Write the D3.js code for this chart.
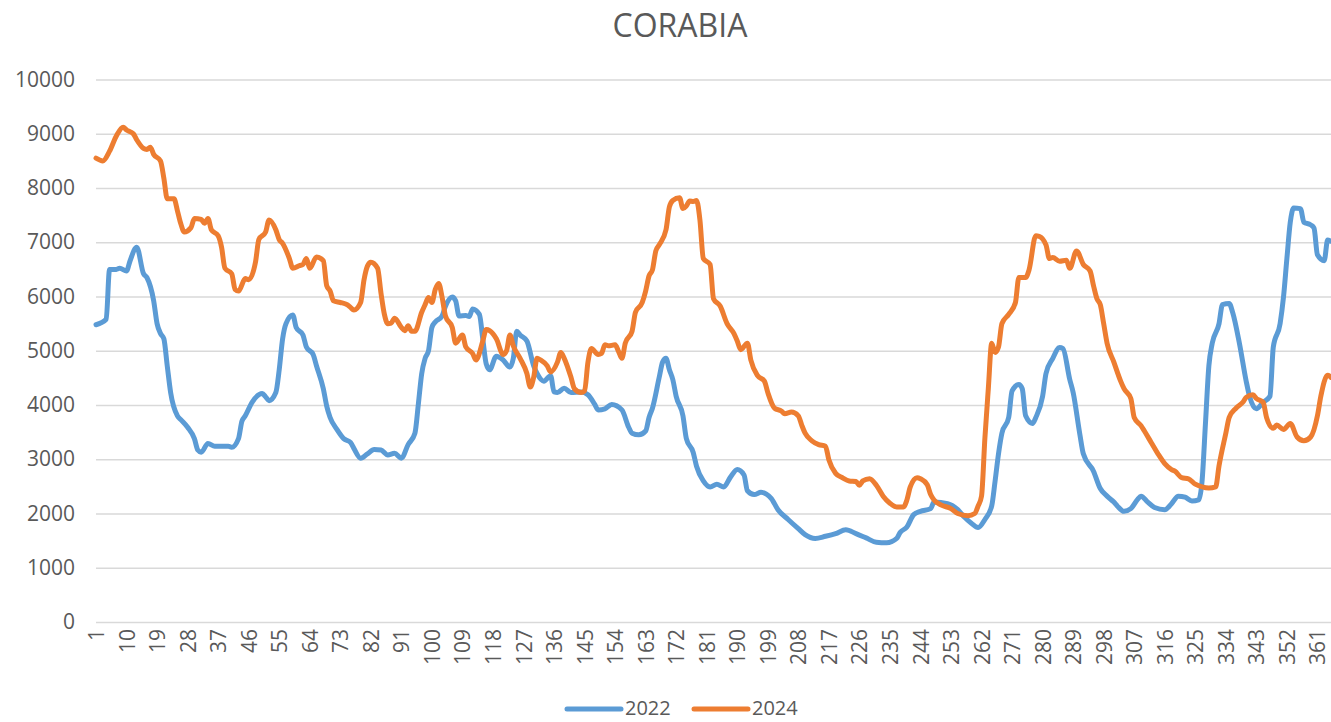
<!DOCTYPE html>
<html lang="en">
<head>
    <meta charset="UTF-8">
    <title>CORABIA</title>
    <style>
        body { margin: 0; background: #fff; }
        text { font-family: "Open Sans", sans-serif; fill: #595959; }
    </style>
</head>
<body>
<script src="https://d3js.org/d3.v7.min.js"></script>
<script>
    // values: day of year and value at that day
    var days2022 = [1, 4, 5, 7, 8, 10, 11, 13, 15, 16, 18, 19, 20, 21, 22, 23, 25, 26, 28, 30, 31, 32, 34, 36, 40, 41, 43, 44, 45, 47, 50, 51, 52, 54, 55, 56, 57, 59, 60, 62, 63, 65, 66, 68, 69, 70, 72, 74, 76, 77, 79, 81, 83, 85, 87, 89, 91, 93, 95, 96, 97, 98, 99, 100, 101, 103, 104, 106, 107, 108, 110, 111, 112, 114, 115, 116, 117, 119, 121, 123, 124, 125, 126, 128, 130, 131, 133, 135, 136, 137, 139, 141, 144, 146, 148, 149, 151, 153, 156, 158, 159, 161, 163, 164, 165, 167, 168, 169, 170, 171, 172, 174, 175, 177, 178, 180, 182, 184, 186, 188, 190, 192, 193, 195, 197, 200, 202, 205, 208, 210, 213, 216, 219, 222, 225, 228, 231, 234, 237, 238, 240, 242, 244, 247, 248, 252, 255, 257, 259, 261, 263, 265, 266, 267, 268, 270, 271, 273, 274, 275, 277, 278, 280, 281, 283, 285, 286, 288, 289, 291, 292, 295, 297, 299, 301, 302, 304, 306, 308, 309, 311, 313, 316, 318, 320, 322, 324, 326, 327, 328, 329, 330, 332, 333, 335, 336, 338, 340, 341, 343, 345, 347, 348, 350, 351, 352, 353, 354, 356, 357, 359, 360, 361, 363, 364, 365];
    var values2022 = [5480, 5580, 6500, 6500, 6520, 6470, 6650, 6910, 6420, 6350, 5920, 5500, 5320, 5220, 4720, 4230, 3800, 3730, 3590, 3380, 3170, 3130, 3290, 3240, 3240, 3220, 3380, 3700, 3800, 4050, 4210, 4150, 4080, 4230, 4650, 5220, 5500, 5660, 5430, 5290, 5070, 4930, 4720, 4300, 3980, 3770, 3550, 3380, 3310, 3200, 3020, 3100, 3180, 3170, 3080, 3110, 3020, 3270, 3480, 4010, 4580, 4860, 5000, 5430, 5530, 5640, 5820, 5990, 5920, 5640, 5650, 5630, 5770, 5670, 5220, 4760, 4650, 4900, 4830, 4700, 4860, 5360, 5290, 5180, 4720, 4580, 4440, 4540, 4240, 4230, 4310, 4230, 4240, 4190, 4010, 3910, 3930, 4010, 3910, 3590, 3480, 3450, 3520, 3770, 3940, 4510, 4790, 4860, 4650, 4470, 4160, 3800, 3380, 3130, 2870, 2600, 2490, 2540, 2490, 2670, 2810, 2710, 2420, 2350, 2390, 2280, 2070, 1890, 1720, 1610, 1540, 1580, 1630, 1700, 1630, 1550, 1470, 1460, 1540, 1650, 1750, 1980, 2040, 2090, 2210, 2180, 2070, 1930, 1820, 1740, 1890, 2140, 2600, 3100, 3480, 3770, 4260, 4380, 4300, 3800, 3660, 3770, 4160, 4580, 4860, 5060, 5040, 4470, 4230, 3450, 3100, 2780, 2460, 2320, 2210, 2140, 2040, 2090, 2260, 2320, 2210, 2110, 2070, 2180, 2320, 2300, 2230, 2250, 2600, 3660, 4720, 5140, 5500, 5850, 5870, 5710, 5140, 4440, 4160, 3930, 4050, 4160, 5070, 5500, 5990, 6700, 7370, 7630, 7620, 7370, 7320, 7260, 6770, 6660, 7040, 7020];

    var days2024 = [1, 3, 5, 7, 9, 10, 12, 13, 15, 16, 17, 18, 20, 21, 22, 24, 25, 26, 27, 29, 30, 32, 33, 34, 35, 37, 38, 39, 41, 42, 43, 45, 46, 48, 49, 51, 52, 54, 55, 56, 58, 59, 61, 62, 63, 64, 66, 68, 69, 70, 71, 73, 75, 76, 77, 79, 80, 81, 82, 84, 85, 86, 87, 88, 89, 91, 92, 93, 94, 95, 97, 98, 99, 100, 101, 102, 103, 104, 106, 107, 109, 110, 112, 113, 115, 116, 117, 119, 121, 122, 123, 124, 126, 128, 129, 130, 131, 132, 134, 135, 137, 138, 139, 141, 142, 144, 145, 146, 147, 149, 150, 151, 152, 154, 155, 156, 157, 159, 160, 162, 163, 164, 165, 166, 167, 169, 170, 171, 173, 174, 175, 176, 177, 178, 179, 180, 182, 183, 185, 187, 189, 190, 191, 193, 194, 196, 198, 199, 201, 203, 204, 206, 208, 209, 210, 212, 214, 216, 217, 219, 221, 223, 225, 226, 227, 229, 231, 233, 235, 237, 239, 240, 241, 243, 244, 246, 247, 248, 250, 253, 255, 258, 260, 261, 262, 263, 264, 265, 266, 267, 268, 270, 272, 273, 275, 276, 278, 279, 281, 282, 283, 285, 287, 288, 290, 292, 294, 295, 296, 297, 298, 299, 301, 303, 304, 306, 307, 309, 310, 312, 314, 316, 318, 319, 321, 323, 325, 327, 329, 331, 332, 334, 335, 337, 339, 340, 342, 343, 345, 346, 348, 349, 351, 353, 355, 357, 359, 361, 362, 364, 365];
    var values2024 = [8550, 8500, 8680, 8960, 9120, 9070, 9000, 8890, 8730, 8710, 8750, 8620, 8500, 8180, 7800, 7800, 7580, 7340, 7190, 7270, 7440, 7420, 7350, 7440, 7230, 7120, 6910, 6520, 6420, 6130, 6100, 6330, 6310, 6630, 7050, 7190, 7410, 7230, 7050, 6980, 6700, 6520, 6570, 6590, 6700, 6520, 6730, 6660, 6200, 6100, 5920, 5890, 5850, 5800, 5750, 5890, 6310, 6560, 6630, 6520, 6060, 5670, 5500, 5510, 5600, 5430, 5370, 5460, 5360, 5360, 5710, 5850, 5980, 5890, 6130, 6240, 5990, 5640, 5430, 5140, 5290, 5070, 4950, 4830, 5180, 5390, 5370, 5220, 4930, 5000, 5290, 5090, 4860, 4580, 4330, 4510, 4860, 4830, 4720, 4610, 4790, 4970, 4860, 4510, 4300, 4230, 4260, 4790, 5040, 4930, 4950, 5110, 5090, 5110, 4990, 4860, 5140, 5360, 5710, 5890, 6100, 6380, 6490, 6840, 6950, 7230, 7650, 7770, 7820, 7620, 7670, 7760, 7750, 7770, 7410, 6700, 6590, 5960, 5820, 5500, 5320, 5180, 5020, 5140, 4830, 4540, 4440, 4230, 3940, 3890, 3840, 3870, 3800, 3630, 3480, 3340, 3270, 3240, 2990, 2740, 2660, 2600, 2590, 2520, 2600, 2640, 2520, 2320, 2190, 2120, 2120, 2250, 2490, 2660, 2640, 2530, 2350, 2250, 2160, 2090, 2000, 1960, 2000, 2140, 2320, 3400, 4300, 5140, 4970, 5070, 5500, 5670, 5890, 6350, 6350, 6490, 7120, 7110, 6950, 6700, 6720, 6650, 6670, 6520, 6840, 6590, 6470, 6200, 5960, 5850, 5500, 5140, 4790, 4440, 4300, 4120, 3770, 3620, 3520, 3310, 3100, 2920, 2810, 2780, 2660, 2640, 2540, 2490, 2470, 2490, 2880, 3480, 3770, 3940, 4050, 4140, 4190, 4120, 4050, 3770, 3570, 3630, 3550, 3660, 3410, 3340, 3410, 3800, 4160, 4550, 4510];

    var seriesNames = ["2022", "2024"];
    var seriesColors = ["#5B9BD5", "#ED7D31"];
    var xTicks = [1, 10, 19, 28, 37, 46, 55, 64, 73, 82, 91, 100, 109, 118, 127, 136, 145, 154, 163, 172, 181, 190, 199, 208, 217, 226, 235, 244, 253, 262, 271, 280, 289, 298, 307, 316, 325, 334, 343, 352, 361];
    var yTicks = [0, 1000, 2000, 3000, 4000, 5000, 6000, 7000, 8000, 9000, 10000];

    var width = 1331, height = 722;
    // plot box (don't call these top/left: window.top is read only)
    var plotL = 96, plotR = 1331, plotT = 79.5, plotB = 622;

    var svg = d3.select("body")
                .append("svg")
                .attr("width", width)
                .attr("height", height);

    var x = d3.scaleLinear().domain([1, 365]).range([plotL, plotR]);
    var y = d3.scaleLinear().domain([0, 10000]).range([plotB, plotT]);

    // title
    svg.append("text")
        .attr("x", 680)
        .attr("y", 37)
        .attr("text-anchor", "middle")
        .style("font-size", "32px")
        .text("CORABIA");

    // y axis with gridlines
    var yAxis = svg.append("g")
        .attr("transform", "translate(" + plotL + ",0)")
        .call(d3.axisLeft(y).tickValues(yTicks).tickSize(-(plotR - plotL)).tickPadding(21).tickFormat(d3.format("d")));
    yAxis.select(".domain").remove();
    yAxis.selectAll("line").attr("stroke", "#d9d9d9").attr("stroke-width", 1.4);
    yAxis.selectAll("text")
        .style("font-size", "21px")
        .style("font-family", "'Open Sans', sans-serif")
        .attr("fill", "#595959");

    // x axis, labels turned up
    var xAxis = svg.append("g")
        .attr("transform", "translate(0," + plotB + ")")
        .call(d3.axisBottom(x).tickValues(xTicks).tickSize(0).tickFormat(d3.format("d")));
    xAxis.select(".domain").remove();
    xAxis.selectAll("text")
        .attr("transform", "rotate(-90)")
        .attr("x", -7)
        .attr("y", 0)
        .attr("dy", "0.36em")
        .attr("text-anchor", "end")
        .style("font-size", "21px")
        .style("font-family", "'Open Sans', sans-serif")
        .attr("fill", "#595959");

    // lines
    var line = d3.line()
        .curve(d3.curveMonotoneX)
        .x(function (d) { return x(d[0]); })
        .y(function (d) { return y(d[1]); });

    var series = [d3.zip(days2022, values2022), d3.zip(days2024, values2024)];

    svg.selectAll("path.series")
        .data(series)
        .enter()
        .append("path")
        .attr("class", "series")
        .attr("d", line)
        .attr("fill", "none")
        .attr("stroke", function (d, i) { return seriesColors[i]; })
        .attr("stroke-width", 5)
        .attr("stroke-linejoin", "round")
        .attr("stroke-linecap", "round");

    // legend
    var legendX = [567, 694];
    var legend = svg.selectAll("g.legend")
        .data(seriesNames)
        .enter()
        .append("g")
        .attr("class", "legend")
        .attr("transform", function (d, i) { return "translate(" + legendX[i] + ",709)"; });
    legend.append("line")
        .attr("x1", 0).attr("x2", 54)
        .attr("stroke", function (d, i) { return seriesColors[i]; })
        .attr("stroke-width", 5)
        .attr("stroke-linecap", "round");
    legend.append("text")
        .attr("x", 58)
        .attr("dy", "0.32em")
        .style("font-size", "20px")
        .text(function (d) { return d; });
</script>
</body>
</html>
